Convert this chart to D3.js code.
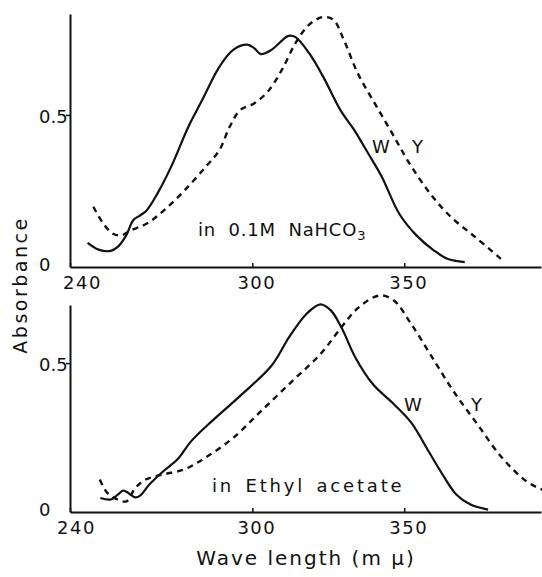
<!DOCTYPE html>
<html>
<head>
<meta charset="utf-8">
<script src="https://cdn.jsdelivr.net/npm/d3@7"></script>
<style>
  body { margin: 0; background: #fff; }
  svg text { font-family: "DejaVu Sans", sans-serif; fill: #111; }
</style>
</head>
<body>
<svg id="chart" width="542" height="577"></svg>
<script>
// x tick labels (wave length, m mu)
const xTicks = [240, 300, 350];
const yTicks = [0, 0.5];

// top panel: in 0.1M NaHCO3  -- [wavelength, absorbance]
const topW = [
  [245.8, 0.079], [249.4, 0.057], [253.4, 0.053], [255.7, 0.066], [258.5, 0.104],
  [260.8, 0.154], [263.1, 0.170], [265.3, 0.187], [268.8, 0.242], [273.3, 0.330],
  [279.0, 0.462], [283.5, 0.549], [289.2, 0.659], [293.7, 0.714], [298.3, 0.731],
  [300.6, 0.720], [302.8, 0.700], [306.3, 0.714], [311.9, 0.760], [314.2, 0.756],
  [318.7, 0.703], [323.3, 0.626], [329.0, 0.516], [333.5, 0.451], [338.1, 0.374],
  [342.6, 0.297], [348.3, 0.176], [354.0, 0.104], [359.7, 0.055], [364.2, 0.027],
  [369.9, 0.016]
];
const topY = [
  [247.7, 0.198], [250.6, 0.148], [254.0, 0.110], [256.8, 0.104], [259.7, 0.119],
  [265.3, 0.143], [271.0, 0.187], [277.8, 0.253], [284.7, 0.330], [289.2, 0.385],
  [292.6, 0.462], [296.0, 0.516], [300.6, 0.538], [305.1, 0.577], [309.7, 0.648],
  [314.2, 0.736], [318.7, 0.797], [323.3, 0.822], [326.7, 0.813], [330.1, 0.747],
  [334.7, 0.637], [340.3, 0.538], [346.0, 0.440], [351.7, 0.341], [358.5, 0.242],
  [365.3, 0.165], [373.3, 0.099], [381.8, 0.027]
];

// bottom panel: in Ethyl acetate
const botW = [
  [250.0, 0.047], [253.4, 0.042], [255.7, 0.058], [257.5, 0.072], [259.2, 0.064],
  [261.5, 0.049], [263.2, 0.056], [266.1, 0.092], [270.7, 0.137], [275.3, 0.176],
  [279.9, 0.238], [286.8, 0.306], [296.0, 0.390], [306.3, 0.491], [312.1, 0.587],
  [317.8, 0.665], [322.4, 0.697], [325.9, 0.676], [329.3, 0.620], [333.9, 0.519],
  [339.7, 0.429], [346.6, 0.362], [352.3, 0.300], [358.0, 0.204], [362.6, 0.126],
  [367.2, 0.058], [371.8, 0.025], [377.6, 0.008]
];
const botY = [
  [249.8, 0.109], [252.3, 0.064], [255.7, 0.042], [258.6, 0.036], [261.5, 0.081],
  [264.9, 0.109], [270.7, 0.126], [277.6, 0.143], [284.5, 0.182], [293.7, 0.249],
  [302.9, 0.339], [313.2, 0.440], [322.4, 0.530], [329.3, 0.620], [335.1, 0.688],
  [342.0, 0.727], [346.6, 0.710], [352.3, 0.631], [359.2, 0.519], [366.1, 0.407],
  [374.1, 0.294], [382.2, 0.182], [390.2, 0.103], [395.4, 0.075]
];

const svg = d3.select("#chart");

const x = d3.scaleLinear().domain([240, 395]).range([70, 541]);

// each panel: its own y scale, curves and labels
const panels = [
  { yTop: 0.832, y0: 267, y1: 14, W: topW, Y: topY, firstShift: 12,
    note: "in 0.1M NaHCO", sub: "3", noteX: 198, noteY: 236, ls: 0.8, ws: 6,
    wAt: [372, 153], yAt: [412, 153] },
  { yTop: 0.695, y0: 512, y1: 305, W: botW, Y: botY, firstShift: 6,
    note: "in Ethyl acetate", sub: null, noteX: 212, noteY: 492, ls: 2.8, ws: 3,
    wAt: [404, 411], yAt: [471, 411] }
];

panels.forEach(function(p) {
  const y = d3.scaleLinear().domain([0, p.yTop]).range([p.y0, p.y1]);
  const g = svg.append("g");

  // x axis, ticks pointing up
  const xa = g.append("g")
    .attr("transform", "translate(0," + p.y0 + ")")
    .call(d3.axisBottom(x).tickValues(xTicks).tickSize(-4).tickSizeOuter(0).tickPadding(9));
  xa.select(".domain").attr("stroke", "#111").attr("stroke-width", 2);
  xa.selectAll(".tick line").attr("stroke", "#111").attr("stroke-width", 1.5);
  xa.selectAll(".tick text")
    .attr("font-size", 18).attr("letter-spacing", 1.5)
    .attr("dx", function(d, i) { return i == 0 ? p.firstShift : 4; });

  // y axis
  const ya = g.append("g")
    .attr("transform", "translate(70,0)")
    .call(d3.axisLeft(y).tickValues(yTicks).tickSize(4).tickSizeOuter(0));
  ya.select(".domain").attr("stroke", "#111").attr("stroke-width", 2);
  ya.selectAll(".tick line").attr("stroke", "#111").attr("stroke-width", 1.5)
    .attr("opacity", function(d) { return d == 0 ? 0 : 1; });
  ya.selectAll(".tick text")
    .attr("font-size", 18).attr("text-anchor", "start").attr("x", -31)
    .attr("dy", function(d) { return d == 0 ? "0.2em" : "0.42em"; })
    .text(function(d) { return d == 0 ? "0" : "0.5"; });

  const line = d3.line()
    .x(function(d) { return x(d[0]); })
    .y(function(d) { return y(d[1]); })
    .curve(d3.curveCatmullRom.alpha(0.5));

  g.append("path").datum(p.W)
    .attr("d", line).attr("fill", "none")
    .attr("stroke", "#111").attr("stroke-width", 2.2);
  g.append("path").datum(p.Y)
    .attr("d", line).attr("fill", "none")
    .attr("stroke", "#111").attr("stroke-width", 2.4)
    .attr("stroke-dasharray", "6,5");

  // curve labels
  g.append("text").attr("x", p.wAt[0]).attr("y", p.wAt[1])
    .attr("font-size", 18).text("W");
  g.append("text").attr("x", p.yAt[0]).attr("y", p.yAt[1])
    .attr("font-size", 18).text("Y");

  // solvent note
  const t = g.append("text").attr("x", p.noteX).attr("y", p.noteY)
    .attr("font-size", 18).attr("letter-spacing", p.ls).attr("word-spacing", p.ws);
  t.append("tspan").text(p.note);
  if (p.sub) {
    t.append("tspan").attr("font-size", 13).attr("dy", 4).text(p.sub);
  }
});

// axis titles
svg.append("text")
  .attr("transform", "translate(27,285) rotate(-90)")
  .attr("text-anchor", "middle")
  .attr("font-size", 19).attr("letter-spacing", 2.5)
  .text("Absorbance");

svg.append("text")
  .attr("x", 306).attr("y", 565)
  .attr("text-anchor", "middle")
  .attr("font-size", 20).attr("letter-spacing", 2)
  .text("Wave length (m μ)");
</script>
</body>
</html>
